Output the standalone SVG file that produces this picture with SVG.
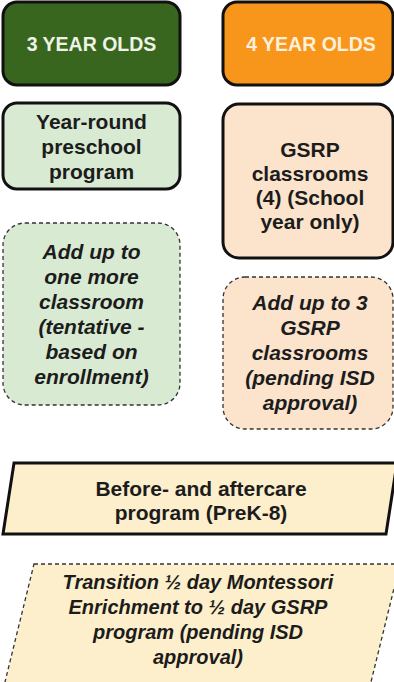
<svg xmlns="http://www.w3.org/2000/svg" width="394" height="682" viewBox="0 0 394 682">
<style>
.t{font-family:"Liberation Sans",Arial,sans-serif;font-weight:bold;font-size:21px;fill:#1c1c1c;text-anchor:middle}
.i{font-style:italic}
.h{font-size:19.5px}
.s{font-size:20px}
.solid{stroke:#111;stroke-width:3}
.dash{stroke:#333;stroke-width:1.3;stroke-dasharray:4 3}
</style>
<rect width="394" height="682" fill="#ffffff"/>
<g id="connectors"></g>
<g id="n3yo">
<rect class="solid" x="3" y="2" width="177" height="83" rx="14" fill="#38661f"/>
<text class="t h" x="91.5" y="51" style="fill:#eef3e6">3 YEAR OLDS</text>
</g>
<g id="n4yo">
<rect class="solid" x="223" y="2" width="170" height="83" rx="14" fill="#f7961b"/>
<text class="t h" x="311" y="51" style="fill:#fff0dc">4 YEAR OLDS</text>
</g>
<g id="nYearRound">
<rect class="solid" x="3" y="103" width="177" height="86" rx="14" fill="#d9ead3"/>
<text class="t" x="91.5" y="129">Year-round</text>
<text class="t" x="91.5" y="154">preschool</text>
<text class="t" x="91.5" y="179">program</text>
</g>
<g id="nGSRP">
<rect class="solid" x="223" y="104" width="170" height="154" rx="16" fill="#fbe3cc"/>
<text class="t" x="310" y="157">GSRP</text>
<text class="t" x="310" y="181">classrooms</text>
<text class="t" x="310" y="205">(4) (School</text>
<text class="t" x="310" y="229">year only)</text>
</g>
<g id="nAddOne">
<rect class="dash" x="3" y="223" width="177" height="182" rx="22" fill="#d9ead3"/>
<text class="t i" x="91.5" y="259">Add up to</text>
<text class="t i" x="91.5" y="284">one more</text>
<text class="t i" x="91.5" y="309">classroom</text>
<text class="t i" x="91.5" y="334">(tentative -</text>
<text class="t i" x="91.5" y="359">based on</text>
<text class="t i" x="91.5" y="384">enrollment)</text>
</g>
<g id="nAddThree">
<rect class="dash" x="223" y="277" width="170" height="152" rx="22" fill="#fbe3cc"/>
<text class="t i" x="310" y="310">Add up to 3</text>
<text class="t i" x="310" y="335">GSRP</text>
<text class="t i" x="310" y="360">classrooms</text>
<text class="t i" x="310" y="385">(pending ISD</text>
<text class="t i" x="310" y="410">approval)</text>
</g>
<g id="nBeforeAfter">
<polygon class="solid" points="14,463 397,463 386,534 3,534" fill="#fdefcb"/>
<text class="t" x="201" y="496">Before- and aftercare</text>
<text class="t" x="201" y="520">program (PreK-8)</text>
</g>
<g id="nTransition">
<polygon class="dash" points="34,564 400,564 370,686 4,686" fill="#fdefcb"/>
<text class="t i s" x="198" y="589">Transition ½ day Montessori</text>
<text class="t i s" x="198" y="614">Enrichment to ½ day GSRP</text>
<text class="t i s" x="198" y="639">program (pending ISD</text>
<text class="t i s" x="198" y="664">approval)</text>
</g>
</svg>
